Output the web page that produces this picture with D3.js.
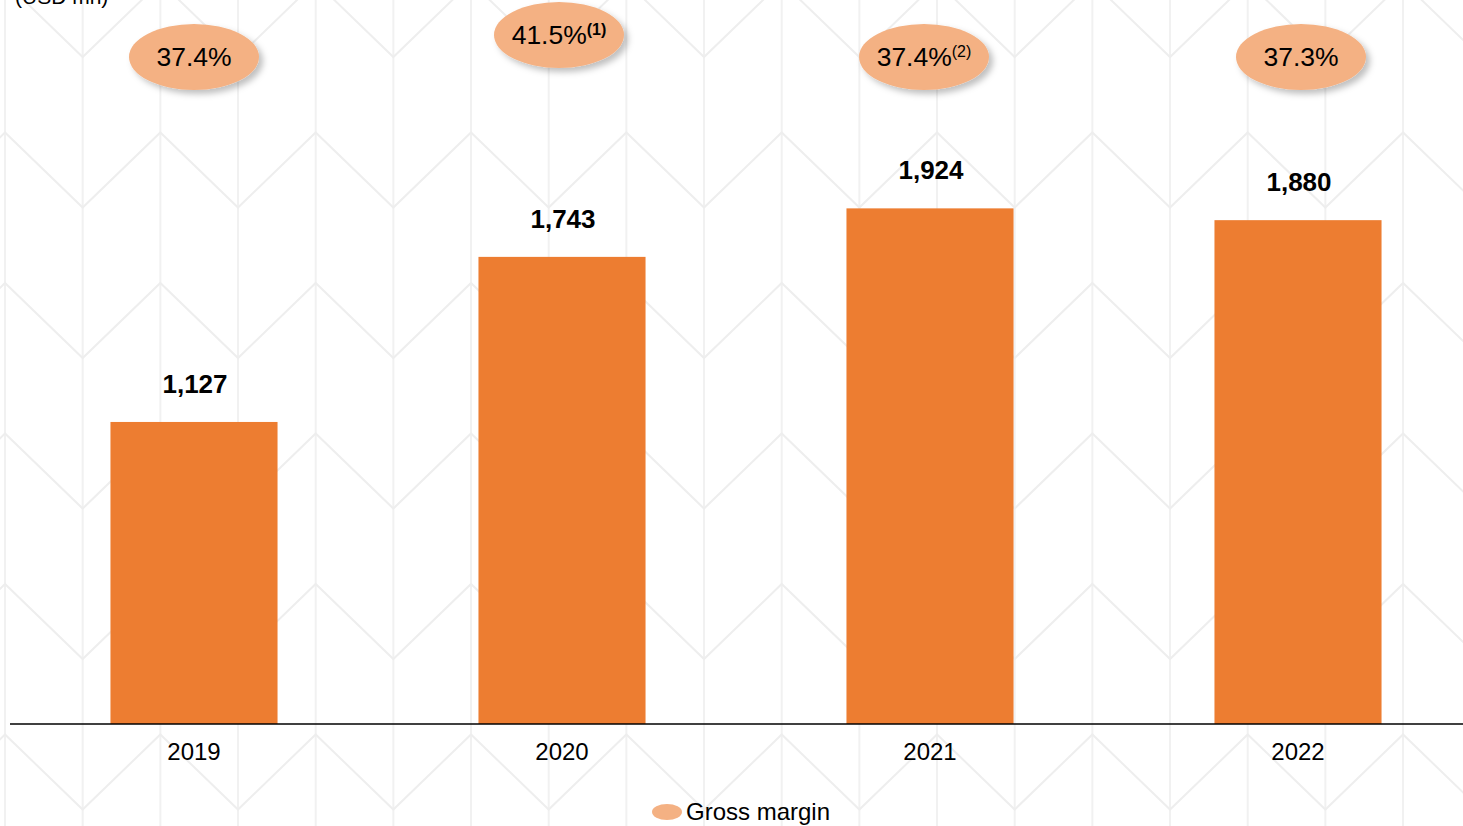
<!DOCTYPE html>
<html><head><meta charset="utf-8">
<script src="https://cdn.jsdelivr.net/npm/d3@7"></script>
<style>
html,body{margin:0;padding:0;background:#fff;}
svg{display:block;font-family:"Liberation Sans",Arial,sans-serif;}
</style></head>
<body>
<svg id="chart" width="1463" height="826"></svg>
<script>
const years = ["2019","2020","2021","2022"];
const grossProfit = [1127, 1743, 1924, 1880];
const grossMargin = [37.4, 41.5, 37.4, 37.3];
const marginNotes = ["", "(1)", "(2)", ""];
const unitLabel = "(USD mn)";
const legendLabel = "Gross margin";

const W = 1463, H = 826;
const svg = d3.select("#chart");

// background decorative pattern
const bg = svg.append("g");
const stepX = 77.67, stepY = 150.5, amp = 75;
for (let k = 0; k <= 19; k++) {
  bg.append("line").attr("x1", 5 + k*stepX).attr("x2", 5 + k*stepX)
    .attr("y1", 0).attr("y2", H).attr("stroke", "#f1f1f1").attr("stroke-width", 2);
}
for (let j = 0; j <= 6; j++) {
  const pts = [];
  for (let k = -1; k <= 20; k++) {
    pts.push([5 + k*stepX, -18 + j*stepY + (Math.abs(k)%2 ? amp : 0)]);
  }
  bg.append("path").attr("d", d3.line()(pts)).attr("fill", "none")
    .attr("stroke", "#eeeeee").attr("stroke-width", 2);
}

// shadow filter
const defs = svg.append("defs");
const f = defs.append("filter").attr("id","sh").attr("x","-30%").attr("y","-30%").attr("width","170%").attr("height","170%");
f.append("feDropShadow").attr("dx",4).attr("dy",4).attr("stdDeviation",3).attr("flood-color","#000").attr("flood-opacity",0.25);

const x = d3.scaleBand().domain(years).range([10, 1482]).paddingInner(0.546).paddingOuter(0.273);
const y = d3.scaleLinear().domain([0, 2000]).range([724, 724 - 0.268*2000]);

// bars
svg.append("g").selectAll("rect").data(years).join("rect")
  .attr("x", d => x(d)).attr("width", x.bandwidth())
  .attr("y", (d,i) => y(grossProfit[i]))
  .attr("height", (d,i) => y(0) - y(grossProfit[i]))
  .attr("fill", "#ed7d31");

// value labels
svg.append("g").selectAll("text").data(years).join("text")
  .attr("x", d => x(d) + x.bandwidth()/2 + 1)
  .attr("y", (d,i) => y(grossProfit[i]) - 29)
  .attr("text-anchor","middle").attr("font-size", 26).attr("font-weight","bold").attr("fill","#000")
  .text((d,i) => d3.format(",")(grossProfit[i]));

// axis
const xAxis = d3.axisBottom(x).tickSize(0).tickPadding(19);
const ag = svg.append("g").attr("transform", `translate(0,${y(0)})`).call(xAxis);
ag.select(".domain").remove();
ag.selectAll("text").attr("font-size", 24).attr("fill","#000").attr("font-family","Liberation Sans, Arial, sans-serif");
svg.append("line").attr("x1", 10).attr("x2", W).attr("y1", y(0)).attr("y2", y(0))
  .attr("stroke","#000").attr("stroke-width",1.5);

// margin ellipses
const ellY = [57, 35, 57, 57];
const ellDx = [0, -3, -6, 3];
const mg = svg.append("g");
years.forEach((yr, i) => {
  const cx = x(yr) + x.bandwidth()/2 + ellDx[i];
  mg.append("ellipse").attr("cx", cx).attr("cy", ellY[i]).attr("rx", 65).attr("ry", 33)
    .attr("fill", "#f4b183").attr("filter","url(#sh)");
  const t = mg.append("text").attr("x", cx).attr("y", ellY[i] + 9)
    .attr("text-anchor","middle").attr("font-size", 26.5).attr("fill","#000");
  t.append("tspan").text(grossMargin[i].toFixed(1) + "%");
  if (marginNotes[i]) {
    t.append("tspan").attr("dy", -9).attr("font-size", 16)
      .attr("font-weight", i === 1 ? "bold" : "normal").text(marginNotes[i]);
  }
});

// unit label
svg.append("text").attr("x", 15).attr("y", 4).attr("font-size", 21).attr("fill","#000").text(unitLabel);

// legend
svg.append("ellipse").attr("cx", 667).attr("cy", 812).attr("rx", 15).attr("ry", 8).attr("fill","#f4b183");
svg.append("text").attr("x", 686).attr("y", 820).attr("font-size", 24).attr("fill","#000").text(legendLabel);
</script>
</body></html>
